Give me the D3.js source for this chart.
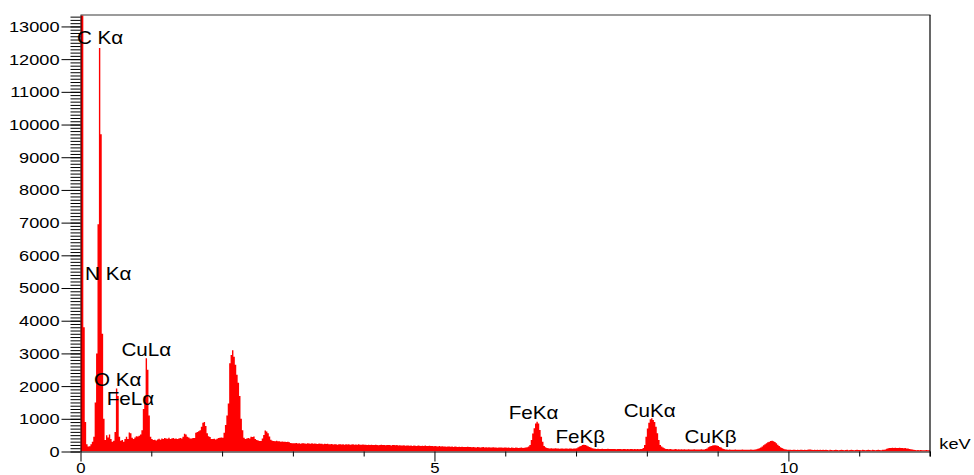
<!DOCTYPE html>
<html>
<head>
<meta charset="utf-8">
<script src="https://cdn.jsdelivr.net/npm/d3@7"></script>
<style>
  html, body { margin: 0; padding: 0; background: #fff; }
  svg { display: block; }
  text { font-family: "Liberation Sans", Arial, sans-serif; fill: #000; }
</style>
</head>
<body>
<svg id="chart" width="974" height="475"></svg>
<script>
// EDS spectrum, counts per 0.02 keV channel, 0 – 12 keV (one array per 0.5 keV)
const channelWidth = 0.02;
const counts00  = [14000, 14000, 3800, 900, 220, 150, 160, 220, 300, 450, 1500, 3000, 6950, 12340, 9700, 3600, 1000, 350, 500, 430, 520, 380, 300, 330, 600];
const counts05  = [1930, 1700, 450, 330, 350, 300, 380, 450, 380, 580, 560, 420, 380, 430, 470, 460, 480, 520, 650, 1300, 1700, 2850, 2500, 1100, 450];
const counts10  = [380, 350, 360, 340, 370, 390, 360, 400, 380, 410, 400, 390, 420, 380, 400, 410, 390, 400, 380, 400, 410, 400, 450, 540, 520];
const counts15  = [450, 430, 400, 400, 410, 410, 575, 600, 620, 650, 760, 880, 900, 780, 560, 470, 440, 380, 380, 390, 370, 390, 410, 420, 430];
const counts20  = [420, 575, 810, 1100, 1470, 2700, 2950, 3100, 2900, 2650, 2350, 2100, 1700, 1000, 650, 420, 380, 400, 410, 400, 450, 440, 460, 380, 350];
const counts25  = [340, 320, 320, 400, 505, 640, 610, 560, 460, 360, 330, 320, 310, 325, 315, 310, 300, 305, 295, 300, 290, 295, 280, 260, 255];
const counts30  = [255, 250, 260, 245, 250, 240, 255, 250, 245, 235, 250, 245, 240, 250, 235, 245, 240, 230, 245, 235, 240, 225, 235, 230, 240];
const counts35  = [225, 220, 230, 215, 225, 220, 210, 225, 220, 215, 220, 210, 225, 215, 220, 210, 215, 220, 205, 215, 210, 220, 205, 210, 215];
const counts40  = [205, 210, 200, 205, 195, 205, 200, 195, 205, 200, 190, 200, 205, 195, 200, 190, 200, 195, 200, 185, 195, 200, 190, 195, 185];
const counts45  = [190, 185, 180, 190, 175, 185, 180, 175, 185, 170, 180, 175, 170, 180, 175, 165, 175, 170, 180, 165, 170, 175, 165, 170, 160];
const counts50  = [165, 160, 155, 165, 150, 160, 155, 150, 145, 155, 150, 145, 150, 140, 150, 145, 140, 145, 135, 145, 140, 135, 140, 145, 135];
const counts55  = [135, 130, 140, 130, 125, 135, 130, 125, 130, 135, 120, 130, 125, 130, 120, 125, 130, 120, 125, 115, 125, 120, 125, 115, 120];
const counts60  = [120, 115, 120, 110, 120, 115, 110, 120, 115, 110, 115, 120, 110, 115, 120, 130, 150, 200, 350, 550, 710, 860, 910, 860, 660];
const counts65  = [450, 300, 170, 130, 110, 100, 95, 100, 90, 95, 100, 90, 95, 85, 95, 90, 85, 95, 90, 85, 90, 95, 85, 90, 95];
const counts70  = [100, 130, 150, 170, 195, 210, 195, 180, 160, 140, 120, 100, 90, 85, 80, 85, 80, 75, 85, 80, 75, 80, 85, 75, 80];
const counts75  = [80, 75, 80, 70, 75, 80, 75, 70, 75, 80, 70, 75, 70, 75, 80, 70, 75, 70, 75, 70, 80, 75, 110, 200, 450];
const counts80  = [700, 880, 990, 1015, 960, 900, 760, 560, 350, 200, 150, 120, 100, 80, 75, 70, 75, 70, 65, 70, 75, 65, 70, 65, 70];
const counts85  = [65, 70, 65, 60, 70, 65, 60, 65, 70, 60, 65, 60, 65, 70, 60, 65, 75, 95, 130, 150, 170, 185, 190, 190, 180];
const counts90  = [165, 140, 120, 95, 75, 65, 60, 55, 60, 55, 50, 55, 60, 50, 55, 50, 55, 60, 50, 55, 50, 55, 50, 60, 55];
const counts95  = [55, 60, 70, 85, 100, 120, 150, 190, 225, 255, 280, 300, 320, 325, 315, 290, 255, 210, 165, 130, 105, 85, 70, 60, 55];
const counts100 = [55, 50, 45, 50, 55, 45, 50, 45, 50, 55, 45, 50, 45, 50, 60, 65, 55, 45, 50, 45, 50, 45, 50, 45, 50];
const counts105 = [45, 50, 45, 40, 50, 45, 40, 45, 50, 45, 40, 45, 50, 45, 40, 45, 50, 40, 45, 50, 45, 40, 45, 50, 45];
const counts110 = [45, 40, 50, 45, 40, 45, 50, 45, 40, 50, 45, 40, 45, 50, 45, 40, 50, 50, 65, 85, 100, 110, 105, 115, 110];
const counts115 = [115, 105, 110, 115, 105, 110, 100, 105, 95, 90, 80, 70, 60, 50, 45, 40, 45, 40, 45, 40, 35, 40, 45, 40, 40];

// Identified emission lines and the count level where each label sits
const lineNames    = ["C K\u03b1", "N K\u03b1", "O K\u03b1", "FeL\u03b1", "CuL\u03b1", "FeK\u03b1", "FeK\u03b2", "CuK\u03b1", "CuK\u03b2"];
const lineEnergies = [0.277, 0.392, 0.525, 0.705, 0.930, 6.40, 7.06, 8.04, 8.90];
const labelLevels  = [12450, 5250, 2000, 1420, 2930, 985, 275, 1065, 275];

// Axis ticks
const yMajorTicks = [0, 1000, 2000, 3000, 4000, 5000, 6000, 7000, 8000, 9000, 10000, 11000, 12000, 13000];
const xMajorTicks = [0, 5, 10];
const xMinorTicks = [1, 2, 3, 4, 6, 7, 8, 9, 11, 12];
const xUnit = "keV";

const counts = [].concat(counts00, counts05, counts10, counts15, counts20, counts25,
  counts30, counts35, counts40, counts45, counts50, counts55, counts60, counts65,
  counts70, counts75, counts80, counts85, counts90, counts95, counts100, counts105,
  counts110, counts115);

// Layout
const margin = { left: 80.5, top: 15, right: 44, bottom: 23.5 };
const W = 974, H = 475;
const innerW = W - margin.left - margin.right;   // 849.5
const innerH = H - margin.top - margin.bottom;   // 436.5
const textStretch = 1.18;

const svg = d3.select("#chart");
const g = svg.append("g").attr("transform", `translate(${margin.left},${margin.top})`);

const x = d3.scaleLinear().domain([0, 12]).range([0, innerW]);
const y = d3.scaleLinear().domain([0, 13350]).range([innerH, 0]);

// Plot clip
svg.append("defs").append("clipPath").attr("id", "plotClip")
  .append("rect").attr("x", 0).attr("y", 0).attr("width", innerW).attr("height", innerH);

// Spectrum as a stepped filled histogram
const pts = counts.map((c, i) => [i * channelWidth, c]);
pts.push([counts.length * channelWidth, counts[counts.length - 1]]);
const area = d3.area()
  .x(d => x(d[0]))
  .y0(y(0))
  .y1(d => y(d[1]))
  .curve(d3.curveStepAfter);
g.append("path")
  .attr("clip-path", "url(#plotClip)")
  .attr("d", area(pts))
  .attr("fill", "#ff0000");

// Helper: horizontally stretched tick text around its anchor
function stretchTicks(sel) {
  sel.selectAll("text").each(function () {
    const t = d3.select(this);
    const xv = +t.attr("x") || 0;
    t.attr("x", xv / textStretch).attr("transform", `scale(${textStretch},1)`);
  });
}

// Top frame line
g.append("line")
  .attr("x1", 0).attr("x2", innerW + 0.5)
  .attr("y1", 0).attr("y2", 0)
  .attr("stroke", "#7a7a7a").attr("stroke-width", 1.3);

// Y axis: minor ticks every 100 counts
const yMinor = d3.range(0, 13351, 100);
g.append("g")
  .call(d3.axisLeft(y).tickValues(yMinor).tickSize(10).tickFormat(""))
  .call(s => s.select(".domain").remove())
  .selectAll("line").attr("stroke", "#000");

// Y axis: major ticks with labels
const yAxisG = g.append("g")
  .call(d3.axisLeft(y).tickValues(yMajorTicks).tickSize(19).tickPadding(2).tickSizeOuter(0).tickFormat(d3.format("d")));
yAxisG.selectAll("text").attr("font-size", 15.4).attr("font-family", "Liberation Sans, Arial, sans-serif");
yAxisG.select(".domain").attr("stroke", "#000");
stretchTicks(yAxisG);

// X axis: minor ticks every keV
const xMinorG = g.append("g").attr("transform", `translate(0,${innerH})`)
  .call(d3.axisBottom(x).tickValues(xMinorTicks).tickSize(5).tickFormat(""));
xMinorG.select(".domain").remove();

// X axis: labelled ticks
const xAxisG = g.append("g").attr("transform", `translate(0,${innerH})`)
  .call(d3.axisBottom(x).tickValues(xMajorTicks).tickSize(10).tickPadding(1.5).tickSizeOuter(0).tickFormat(d3.format("d")));
xAxisG.selectAll("text")
  .attr("font-size", 14.2)
  .attr("font-family", "Liberation Sans, Arial, sans-serif");
stretchTicks(xAxisG);

// Right frame line
g.append("line")
  .attr("x1", innerW).attr("x2", innerW)
  .attr("y1", 0).attr("y2", innerH + 5)
  .attr("stroke", "#000").attr("stroke-width", 1.2);

// Unit label
g.append("text")
  .attr("transform", `translate(${x(12) + 9.3},${y(0) - 2.2}) scale(${textStretch},1)`)
  .attr("font-size", 15.4)
  .text(xUnit);

// Emission line labels
g.selectAll("text.line-label")
  .data(lineNames)
  .join("text")
  .attr("class", "line-label")
  .attr("text-anchor", "middle")
  .attr("font-size", 17.5)
  .attr("transform", (d, i) => `translate(${x(lineEnergies[i])},${y(labelLevels[i])}) scale(${textStretch},1)`)
  .text(d => d);
</script>
</body>
</html>
